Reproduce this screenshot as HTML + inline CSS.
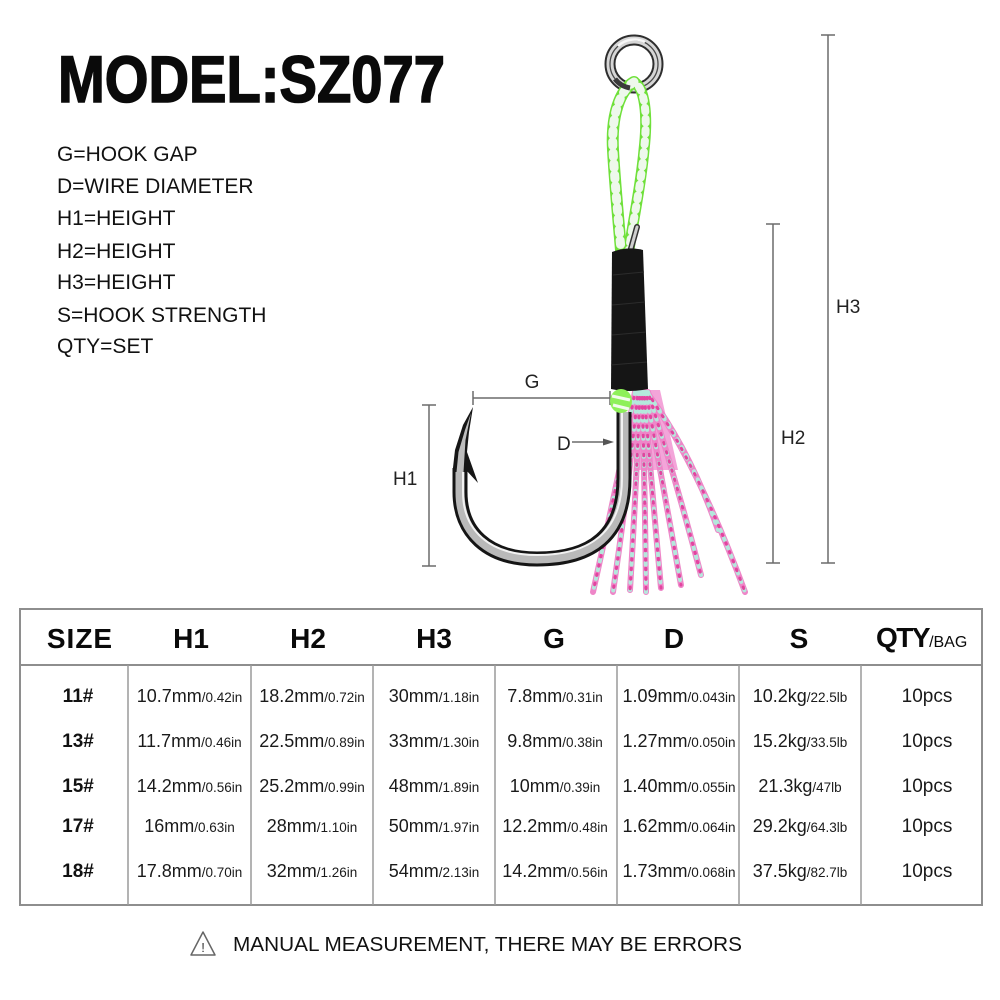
<!DOCTYPE html>
<html>
<head>
<meta charset="utf-8">
<style>
  html,body{margin:0;padding:0;background:#fff;}
  svg{display:block;}
  text{font-family:"Liberation Sans", Arial, sans-serif;}
</style>
</head>
<body>
<svg width="1000" height="1000" viewBox="0 0 1000 1000" xmlns="http://www.w3.org/2000/svg">
  <rect width="1000" height="1000" fill="#fff"/>

  <!-- Title -->
  <text x="58" y="102" font-size="66" font-weight="bold" fill="#0a0a0a" stroke="#0a0a0a" stroke-width="1.6" textLength="387" lengthAdjust="spacingAndGlyphs">MODEL:SZ077</text>

  <!-- Legend -->
  <g font-size="21" fill="#111">
    <text x="57" y="161">G=HOOK GAP</text>
    <text x="57" y="193">D=WIRE DIAMETER</text>
    <text x="57" y="225">H1=HEIGHT</text>
    <text x="57" y="258">H2=HEIGHT</text>
    <text x="57" y="289">H3=HEIGHT</text>
    <text x="57" y="322">S=HOOK STRENGTH</text>
    <text x="57" y="353">QTY=SET</text>
  </g>

  <!-- Dimension lines -->
  <g stroke="#6b6b6b" stroke-width="1.5" fill="none">
    <line x1="828" y1="35" x2="828" y2="563"/>
    <line x1="821" y1="35" x2="835" y2="35"/>
    <line x1="821" y1="563" x2="835" y2="563"/>
    <line x1="773" y1="224" x2="773" y2="563"/>
    <line x1="766" y1="224" x2="780" y2="224"/>
    <line x1="766" y1="563" x2="780" y2="563"/>
    <line x1="429" y1="405" x2="429" y2="566"/>
    <line x1="422" y1="405" x2="436" y2="405"/>
    <line x1="422" y1="566" x2="436" y2="566"/>
    <line x1="473" y1="398" x2="610" y2="398"/>
    <line x1="473" y1="391" x2="473" y2="405"/>
    <line x1="610" y1="391" x2="610" y2="405"/>
    <line x1="572" y1="442" x2="606" y2="442"/>
  </g>
  <polygon points="603,438.5 614,442 603,445.5" fill="#555"/>
  <g font-size="19" fill="#222">
    <text x="836" y="313">H3</text>
    <text x="781" y="444">H2</text>
    <text x="393" y="485">H1</text>
    <text x="532" y="388" text-anchor="middle">G</text>
    <text x="557" y="450">D</text>
  </g>

  <!-- Tassel (behind hook) -->
  <g fill="none" stroke-linecap="round">
    <path d="M634,390 L660,390 L678,470 L638,470 Z" fill="#f08fcf" stroke="none" opacity="0.8"/>
    <g stroke="#ee86c8" stroke-width="6">
      <path d="M635,392 Q618,480 593,592"/>
      <path d="M638,392 Q628,490 613,592"/>
      <path d="M640,392 Q636,490 630,590"/>
      <path d="M642,392 Q645,490 646,592"/>
      <path d="M644,392 Q652,490 661,588"/>
      <path d="M646,392 Q664,490 681,585"/>
      <path d="M648,392 Q676,480 701,575"/>
      <path d="M648,394 Q690,450 718,530"/>
      <path d="M649,395 Q700,470 745,592"/>
    </g>
    <g stroke="#b4e8dc" stroke-width="4" stroke-dasharray="2 7">
      <path d="M635,392 Q618,480 593,592"/>
      <path d="M638,392 Q628,490 613,592"/>
      <path d="M640,392 Q636,490 630,590"/>
      <path d="M642,392 Q645,490 646,592"/>
      <path d="M644,392 Q652,490 661,588"/>
      <path d="M646,392 Q664,490 681,585"/>
      <path d="M648,392 Q676,480 701,575"/>
      <path d="M648,394 Q690,450 718,530"/>
      <path d="M649,395 Q700,470 745,592"/>
    </g>
    <g stroke="#e2449f" stroke-width="3" stroke-dasharray="1.5 8" stroke-dashoffset="4">
      <path d="M635,392 Q618,480 593,592"/>
      <path d="M638,392 Q628,490 613,592"/>
      <path d="M640,392 Q636,490 630,590"/>
      <path d="M642,392 Q645,490 646,592"/>
      <path d="M644,392 Q652,490 661,588"/>
      <path d="M646,392 Q664,490 681,585"/>
      <path d="M648,392 Q676,480 701,575"/>
      <path d="M649,395 Q700,470 745,592"/>
    </g>
  </g>

  <!-- Split ring -->
  <circle cx="634" cy="64" r="24" fill="none" stroke="#2e2e2e" stroke-width="11"/>
  <circle cx="634" cy="64" r="24" fill="none" stroke="#d6d6d6" stroke-width="7"/>
  <circle cx="634" cy="64" r="24" fill="none" stroke="#4a4a4a" stroke-width="1.3"/>
  <path d="M618,46 A24,24 0 0 1 645,42" fill="none" stroke="#f7f7f7" stroke-width="2.5"/>

  <!-- Green braided loop -->
  <g fill="none" stroke-linecap="round">
    <path d="M634,82 C620,90 611,115 613,150 C615,185 618,215 621,250" stroke="#6fe03a" stroke-width="12"/>
    <path d="M634,82 C645,88 648,115 644,150 C641,185 634,215 629,250" stroke="#6fe03a" stroke-width="11"/>
    <path d="M634,82 C620,90 611,115 613,150 C615,185 618,215 621,250" stroke="#eef8ec" stroke-width="9" stroke-dasharray="4 7"/>
    <path d="M634,82 C645,88 648,115 644,150 C641,185 634,215 629,250" stroke="#eef8ec" stroke-width="8" stroke-dasharray="4 7" stroke-dashoffset="4"/>
  </g>
  <!-- ring bottom crossing over loop -->
  <path d="M615,79 A24,24 0 0 0 630,88" fill="none" stroke="#3a3a3a" stroke-width="5"/>

  <!-- Pin -->
  <line x1="630" y1="252" x2="637" y2="227" stroke="#333" stroke-width="6" stroke-linecap="round"/>
  <line x1="630" y1="252" x2="637" y2="227" stroke="#cfcfcf" stroke-width="3" stroke-linecap="round"/>

  <!-- Black wrap -->
  <path d="M612,252 Q628,246 643,250 L648,389 Q630,393 611,389 Z" fill="#151515"/>
  <g stroke="#2c2c2c" stroke-width="1">
    <line x1="613" y1="275" x2="644" y2="272"/>
    <line x1="612" y1="305" x2="645" y2="302"/>
    <line x1="612" y1="335" x2="646" y2="332"/>
    <line x1="611" y1="365" x2="647" y2="362"/>
  </g>

  <!-- Hook -->
  <g fill="none" stroke-linecap="butt">
    <path d="M624,412 L624,478 C624,535 592,559 537,559 C487,559 460,532 460,492 L460,468" stroke="#151515" stroke-width="15"/>
    <path d="M624,412 L624,478 C624,535 592,559 537,559 C487,559 460,532 460,492 L460,468" stroke="#b9b9b9" stroke-width="9"/>
    <path d="M622,412 L622,478 C622,532 590,555 537,555 C489,555 463,530 463,492 L463,468" stroke="#f2f2f2" stroke-width="2"/>
  </g>
  <polygon points="452.5,472 455,450 463,425 473,407 469,432 467,452 478,483 466,470 467.5,472" fill="#161616"/>
  <polygon points="456.5,472 458.5,452 465,430 471,413 465.5,440 463.5,472" fill="#bdbdbd"/>

  <!-- Knot -->
  <ellipse cx="621" cy="401" rx="11" ry="12" fill="#8ef05a"/>
  <path d="M612,396 L630,400 M613,405 L629,409" stroke="#f2fbee" stroke-width="3"/>

  <!-- Table -->
  <g fill="none">
    <rect x="20" y="609" width="962" height="296" stroke="#8e8e8e" stroke-width="2"/>
    <line x1="20" y1="665" x2="982" y2="665" stroke="#8e8e8e" stroke-width="2"/>
    <g stroke="#9a9a9a" stroke-width="1.5">
      <line x1="128" y1="665" x2="128" y2="905"/>
      <line x1="251" y1="665" x2="251" y2="905"/>
      <line x1="373" y1="665" x2="373" y2="905"/>
      <line x1="495" y1="665" x2="495" y2="905"/>
      <line x1="617" y1="665" x2="617" y2="905"/>
      <line x1="739" y1="665" x2="739" y2="905"/>
      <line x1="861" y1="665" x2="861" y2="905"/>
    </g>
  </g>

  <!-- Header -->
  <g font-size="28" font-weight="bold" fill="#0a0a0a" text-anchor="middle">
    <text x="80" y="648" letter-spacing="1">SIZE</text>
    <text x="191" y="648">H1</text>
    <text x="308" y="648">H2</text>
    <text x="434" y="648">H3</text>
    <text x="554" y="648">G</text>
    <text x="674" y="648">D</text>
    <text x="799" y="648">S</text>
  </g>
  <text x="876" y="647" fill="#0a0a0a"><tspan font-size="28" font-weight="bold" letter-spacing="-1.5">QTY</tspan><tspan font-size="16">/BAG</tspan></text>

  <!-- Body -->
  <g font-size="19" font-weight="bold" fill="#111" text-anchor="middle">
    <text x="78" y="702">11#</text>
    <text x="78" y="747">13#</text>
    <text x="78" y="792">15#</text>
    <text x="78" y="832">17#</text>
    <text x="78" y="877">18#</text>
  </g>

  <g fill="#1a1a1a" text-anchor="middle">
    <!-- row 1 -->
    <text x="189.5" y="702"><tspan font-size="18">10.7mm</tspan><tspan font-size="13.5">/0.42in</tspan></text>
    <text x="312" y="702"><tspan font-size="18">18.2mm</tspan><tspan font-size="13.5">/0.72in</tspan></text>
    <text x="434" y="702"><tspan font-size="18">30mm</tspan><tspan font-size="13.5">/1.18in</tspan></text>
    <text x="555" y="702"><tspan font-size="18">7.8mm</tspan><tspan font-size="13.5">/0.31in</tspan></text>
    <text x="679" y="702"><tspan font-size="18">1.09mm</tspan><tspan font-size="13.5">/0.043in</tspan></text>
    <text x="800" y="702"><tspan font-size="18">10.2kg</tspan><tspan font-size="13.5">/22.5lb</tspan></text>
    <text x="927" y="702" font-size="19">10pcs</text>
    <!-- row 2 -->
    <text x="189.5" y="747"><tspan font-size="18">11.7mm</tspan><tspan font-size="13.5">/0.46in</tspan></text>
    <text x="312" y="747"><tspan font-size="18">22.5mm</tspan><tspan font-size="13.5">/0.89in</tspan></text>
    <text x="434" y="747"><tspan font-size="18">33mm</tspan><tspan font-size="13.5">/1.30in</tspan></text>
    <text x="555" y="747"><tspan font-size="18">9.8mm</tspan><tspan font-size="13.5">/0.38in</tspan></text>
    <text x="679" y="747"><tspan font-size="18">1.27mm</tspan><tspan font-size="13.5">/0.050in</tspan></text>
    <text x="800" y="747"><tspan font-size="18">15.2kg</tspan><tspan font-size="13.5">/33.5lb</tspan></text>
    <text x="927" y="747" font-size="19">10pcs</text>
    <!-- row 3 -->
    <text x="189.5" y="792"><tspan font-size="18">14.2mm</tspan><tspan font-size="13.5">/0.56in</tspan></text>
    <text x="312" y="792"><tspan font-size="18">25.2mm</tspan><tspan font-size="13.5">/0.99in</tspan></text>
    <text x="434" y="792"><tspan font-size="18">48mm</tspan><tspan font-size="13.5">/1.89in</tspan></text>
    <text x="555" y="792"><tspan font-size="18">10mm</tspan><tspan font-size="13.5">/0.39in</tspan></text>
    <text x="679" y="792"><tspan font-size="18">1.40mm</tspan><tspan font-size="13.5">/0.055in</tspan></text>
    <text x="800" y="792"><tspan font-size="18">21.3kg</tspan><tspan font-size="13.5">/47lb</tspan></text>
    <text x="927" y="792" font-size="19">10pcs</text>
    <!-- row 4 -->
    <text x="189.5" y="832"><tspan font-size="18">16mm</tspan><tspan font-size="13.5">/0.63in</tspan></text>
    <text x="312" y="832"><tspan font-size="18">28mm</tspan><tspan font-size="13.5">/1.10in</tspan></text>
    <text x="434" y="832"><tspan font-size="18">50mm</tspan><tspan font-size="13.5">/1.97in</tspan></text>
    <text x="555" y="832"><tspan font-size="18">12.2mm</tspan><tspan font-size="13.5">/0.48in</tspan></text>
    <text x="679" y="832"><tspan font-size="18">1.62mm</tspan><tspan font-size="13.5">/0.064in</tspan></text>
    <text x="800" y="832"><tspan font-size="18">29.2kg</tspan><tspan font-size="13.5">/64.3lb</tspan></text>
    <text x="927" y="832" font-size="19">10pcs</text>
    <!-- row 5 -->
    <text x="189.5" y="877"><tspan font-size="18">17.8mm</tspan><tspan font-size="13.5">/0.70in</tspan></text>
    <text x="312" y="877"><tspan font-size="18">32mm</tspan><tspan font-size="13.5">/1.26in</tspan></text>
    <text x="434" y="877"><tspan font-size="18">54mm</tspan><tspan font-size="13.5">/2.13in</tspan></text>
    <text x="555" y="877"><tspan font-size="18">14.2mm</tspan><tspan font-size="13.5">/0.56in</tspan></text>
    <text x="679" y="877"><tspan font-size="18">1.73mm</tspan><tspan font-size="13.5">/0.068in</tspan></text>
    <text x="800" y="877"><tspan font-size="18">37.5kg</tspan><tspan font-size="13.5">/82.7lb</tspan></text>
    <text x="927" y="877" font-size="19">10pcs</text>
  </g>

  <!-- Footer -->
  <polygon points="203,932 191,955 215,955" fill="none" stroke="#666" stroke-width="1.5" stroke-linejoin="round"/>
  <text x="203" y="952" font-size="13" fill="#333" text-anchor="middle">!</text>
  <text x="233" y="951" font-size="20.5" fill="#111" textLength="509" lengthAdjust="spacingAndGlyphs">MANUAL MEASUREMENT, THERE MAY BE ERRORS</text>
</svg>
</body>
</html>
